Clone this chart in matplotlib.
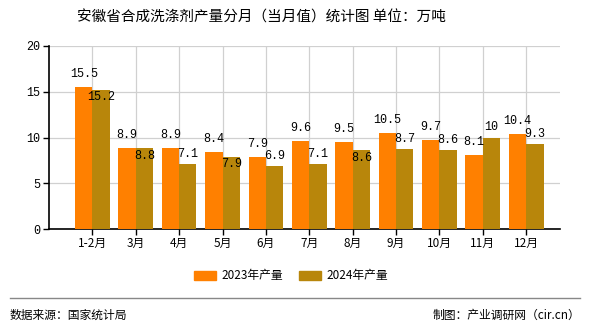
import matplotlib
matplotlib.use("Agg")
import matplotlib.pyplot as plt
from matplotlib.patches import Patch
from matplotlib.lines import Line2D
import numpy as np

plt.rcParams['font.family'] = ['Noto Sans CJK SC', 'DejaVu Sans']

categories = ["1-2月", "3月", "4月", "5月", "6月", "7月", "8月", "9月", "10月", "11月", "12月"]
values_2023 = [15.5, 8.9, 8.9, 8.4, 7.9, 9.6, 9.5, 10.5, 9.7, 8.1, 10.4]
values_2024 = [15.2, 8.8, 7.1, 7.9, 6.9, 7.1, 8.6, 8.7, 8.6, 10, 9.3]
labels_2024_below = [True, True, False, True, False, False, True, False, False, False, False]
series_names = ["2023年产量", "2024年产量"]
yticks = [0, 5, 10, 15, 20]

c2023 = "#FF8000"
c2024 = "#B8860B"

fig = plt.figure(figsize=(5.9, 3.3), dpi=100)
ax = fig.add_axes([49/590, 1-229/330, (560-49)/590, (229-46)/330])

x = np.arange(len(categories))
w = 0.4
ax.bar(x - w/2, values_2023, width=w, color=c2023, zorder=3)
ax.bar(x + w/2, values_2024, width=w, color=c2024, zorder=3)

num_font = dict(family=['Liberation Mono', 'DejaVu Sans Mono'], fontsize=8.5)
for xi, v in zip(x, values_2023):
    ax.annotate(f"{v:g}", (xi - w/2, v), xytext=(0, 5), textcoords='offset points',
                ha='center', va='bottom', zorder=5, **num_font)
for xi, v, below in zip(x, values_2024, labels_2024_below):
    if below:
        ax.annotate(f"{v:g}", (xi + w/2, v), xytext=(0, -1), textcoords='offset points',
                    ha='center', va='top', zorder=5, **num_font)
    else:
        ax.annotate(f"{v:g}", (xi + w/2, v), xytext=(0, 3), textcoords='offset points',
                    ha='center', va='bottom', zorder=5, **num_font)

ax.set_xlim(-1, 10.78)
ax.set_ylim(0, 20)
ax.set_yticks(yticks)
ax.set_yticklabels([str(t) for t in yticks], **num_font)
ax.set_xticks(list(x))
ax.set_xticklabels(categories, fontsize=8.5)
ax.grid(True, color="#d0d0d0", linewidth=0.9, zorder=0)
ax.set_axisbelow(True)
for s in ['top', 'right']:
    ax.spines[s].set_visible(False)
for s in ['left', 'bottom']:
    ax.spines[s].set_color('black')
    ax.spines[s].set_linewidth(1.2)
ax.tick_params(axis='both', length=4, width=1, color='black', pad=2)

fig.text(261/590, 1-18/330, "安徽省合成洗涤剂产量分月（当月值）统计图 单位：万吨",
         ha='center', va='center', fontsize=10.5)

handles = [Patch(color=c2023), Patch(color=c2024)]
fig.legend(handles, series_names, loc='center', bbox_to_anchor=(291/590, 1-276/330),
           ncol=2, frameon=False, fontsize=8.5, handlelength=1.85, handleheight=0.8,
           columnspacing=1.35, handletextpad=0.45)

fig.add_artist(Line2D([10/590, 580/590], [1-298/330, 1-298/330], color='#888888', linewidth=1))
fig.text(10/590, 1-315/330, "数据来源：国家统计局", ha='left', va='center', fontsize=8.5)
fig.text(580/590, 1-315/330, "制图：产业调研网（cir.cn）", ha='right', va='center', fontsize=8.5)

fig.savefig("out.png", dpi=100)
